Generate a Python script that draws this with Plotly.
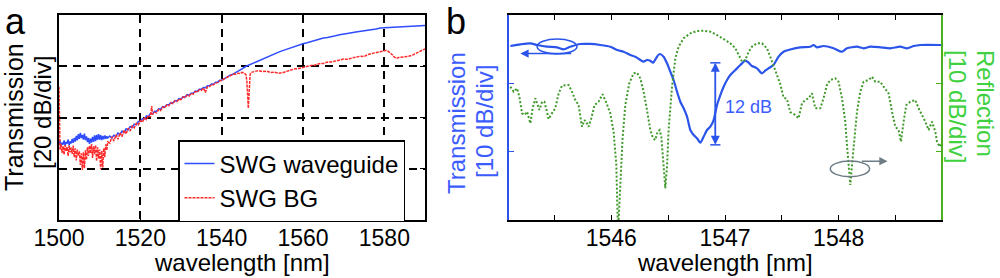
import plotly.graph_objects as go

# ---------------- Panel a data (transmission, dB) ----------------
wl_a_blue = [1500.00, 1500.25, 1500.50, 1500.75, 1501.00, 1501.25, 1501.50, 1501.75, 1502.00, 1502.25,
             1502.50, 1502.75, 1503.00, 1503.25, 1503.50, 1503.75, 1504.00, 1504.25, 1504.50, 1504.75,
             1505.00, 1505.25, 1505.50, 1505.75, 1506.00, 1506.25, 1506.50, 1506.75, 1507.00, 1507.25,
             1507.50, 1507.75, 1508.00, 1508.25, 1508.50, 1508.75, 1509.00, 1509.25, 1509.50, 1509.75,
             1510.00, 1510.25, 1510.50, 1510.75, 1511.00, 1511.25, 1511.50, 1511.75, 1512.00,
             1512.5, 1513.0, 1513.5, 1514.0, 1514.5, 1515.0, 1515.5, 1516.0, 1516.5, 1517.0,
             1517.5, 1518.0, 1518.5, 1519.0, 1519.5, 1520.0, 1520.5, 1521.0, 1521.5, 1522.0,
             1522.5, 1523.0, 1523.5, 1524.0, 1524.5, 1525.0, 1525.5, 1526.0, 1526.5, 1527.0,
             1527.5, 1528.0, 1528.5, 1529.0, 1529.5, 1530.0, 1530.5, 1531.0, 1531.5, 1532.0,
             1532.5, 1533.0, 1533.5, 1534.0, 1534.5, 1535.0, 1535.5, 1536.0, 1536.5, 1537.0,
             1537.5, 1538.0, 1538.5, 1539.0, 1539.5, 1540.0,
             1541, 1542, 1543, 1544, 1545, 1546, 1547, 1548, 1549, 1550,
             1551, 1552, 1553, 1554, 1555, 1556, 1557, 1558, 1559, 1560,
             1561, 1562, 1563, 1564, 1565, 1566, 1567, 1568, 1569, 1570,
             1571, 1572, 1573, 1574, 1575, 1576, 1577, 1578, 1579, 1580,
             1581, 1582, 1583, 1584, 1585, 1586, 1587, 1588, 1589, 1590]
tx_a_blue = [-50.5, -49.0, -51.2, -49.8, -50.6, -48.9, -51.0, -49.5, -50.2, -48.6,
             -50.9, -49.3, -50.1, -48.4, -49.9, -48.0, -49.4, -47.2, -48.9, -46.5,
             -48.3, -46.0, -48.0, -46.8, -48.6, -46.3, -48.8, -47.4, -49.6, -48.0,
             -50.3, -48.3, -49.8, -47.6, -49.5, -47.0, -49.2, -46.8, -48.7, -46.5,
             -48.6, -46.9, -48.8, -47.2, -48.5, -47.0, -48.3, -47.3, -48.0,
             -47.2, -48.0, -46.9, -47.4, -46.1, -46.6, -45.3, -45.8, -44.4, -44.9,
             -43.5, -43.9, -42.6, -42.9, -41.6, -41.6, -40.5, -40.6, -39.4, -39.6,
             -38.4, -38.6, -37.6, -37.6, -36.6, -36.8, -35.7, -35.9, -35.0, -35.0,
             -34.2, -34.3, -33.4, -33.6, -32.6, -32.8, -31.9, -32.0, -31.1, -31.3,
             -30.5, -30.5, -29.7, -29.8, -29.0, -29.0, -28.3, -28.4, -27.6, -27.6,
             -26.9, -27.0, -26.2, -26.2, -25.5, -25.5,
             -24.5, -23.6, -22.9, -21.8, -21.0, -20.0, -19.3, -18.4, -17.8, -17.0,
             -16.4, -15.7, -15.2, -14.5, -13.9, -13.3, -12.8, -12.2, -11.7, -11.2,
             -10.8, -10.3, -9.9, -9.5, -9.0, -8.8, -8.3, -8.1, -7.7, -7.5,
             -7.1, -6.9, -6.6, -6.4, -6.0, -5.9, -5.6, -5.5, -5.1, -5.0,
             -5.1, -4.8, -4.7, -4.6, -4.6, -4.4, -4.5, -4.3, -4.3, -4.1]

wl_a_red = [1500.00, 1500.10, 1500.25, 1500.50, 1500.75, 1501.00, 1501.25, 1501.50, 1501.75, 1502.00,
            1502.25, 1502.50, 1502.75, 1503.00, 1503.25, 1503.50, 1503.75, 1504.00, 1504.25, 1504.50,
            1504.75, 1505.00, 1505.25, 1505.50, 1505.75, 1506.00, 1506.25, 1506.50, 1506.75, 1507.00,
            1507.25, 1507.50, 1507.75, 1508.00, 1508.25, 1508.50, 1508.75, 1509.00, 1509.25, 1509.50,
            1509.75, 1510.00, 1510.25, 1510.50, 1510.75, 1511.00, 1511.25, 1511.50, 1511.75, 1512.00,
            1512.5, 1513.0, 1513.5, 1514.0, 1514.5, 1515.0, 1515.5, 1516.0, 1516.5, 1517.0,
            1517.5, 1518.0, 1518.5, 1519.0, 1519.5, 1520.0, 1520.5, 1521.0, 1521.5, 1522.0,
            1522.5, 1522.8, 1523.0, 1523.5, 1524.0, 1524.5, 1525.0, 1525.5, 1526.0, 1526.5,
            1527.0, 1527.5, 1528.0, 1528.5, 1529.0, 1529.5, 1530.0, 1530.5, 1531.0, 1531.5,
            1532.0, 1532.5, 1533.0, 1533.5, 1534.0, 1534.5, 1535.0, 1535.5, 1536.0, 1536.5,
            1537.0, 1537.5, 1538.0, 1538.5, 1539.0, 1539.5, 1540.0,
            1540.5, 1541.0, 1541.5, 1542.0, 1542.5, 1543.0, 1543.5, 1544.0, 1544.5, 1545.0,
            1545.5, 1546.0, 1546.2, 1546.4, 1546.55, 1546.7, 1546.85, 1547.0, 1547.3, 1548.0,
            1549, 1550, 1551, 1552, 1553, 1554, 1555, 1556, 1557, 1558,
            1559, 1560, 1561, 1562, 1563, 1564, 1565, 1566, 1567, 1568,
            1569, 1570, 1571, 1572, 1573, 1574, 1575, 1576, 1577, 1578,
            1579, 1580, 1580.5, 1581, 1581.5, 1582, 1582.5, 1583, 1583.5, 1584,
            1585, 1586, 1587, 1588, 1589, 1590]
tx_a_red = [-28.0, -51.0, -52.5, -50.5, -53.8, -51.2, -54.5, -50.8, -53.0, -51.5,
            -55.0, -50.9, -53.6, -51.8, -54.2, -51.0, -55.5, -52.0, -56.8, -52.5,
            -55.0, -53.2, -58.5, -54.0, -60.5, -53.5, -59.8, -52.8, -56.5, -51.5,
            -55.0, -51.0, -54.0, -50.4, -55.8, -51.2, -54.3, -50.8, -57.0, -51.6,
            -56.0, -52.5, -60.2, -53.0, -59.5, -52.0, -55.5, -50.5, -52.8, -49.5,
            -50.0, -47.5, -49.2, -46.8, -48.5, -46.0, -47.5, -45.0, -46.4, -44.2,
            -45.3, -43.3, -44.0, -42.3, -42.9, -41.2, -41.8, -40.2, -40.8, -39.2,
            -39.8, -35.5, -38.8, -38.0, -38.2, -36.9, -37.3, -35.9, -36.3, -35.1,
            -35.4, -34.3, -34.6, -33.5, -33.8, -32.8, -33.0, -32.0, -32.3, -31.3,
            -31.6, -30.6, -30.9, -29.9, -30.1, -29.2, -29.4, -28.5, -30.2, -28.0,
            -27.9, -27.2, -27.2, -26.5, -26.4, -25.7, -25.6,
            -25.0, -24.6, -24.3, -23.7, -23.6, -23.0, -23.1, -22.7, -22.8, -22.4,
            -22.6, -23.4, -26.0, -31.0, -36.4, -32.0, -26.0, -23.2, -22.4, -22.0,
            -21.7, -22.1, -21.9, -22.4, -22.3, -22.7, -22.5, -22.0, -21.6, -21.0,
            -20.9, -20.4, -20.2, -19.7, -19.5, -19.0, -18.9, -18.4, -18.3, -17.8,
            -17.6, -17.2, -17.3, -16.8, -16.5, -16.1, -16.2, -15.4, -15.0, -14.7,
            -14.4, -14.0, -13.8, -14.2, -14.8, -15.6, -16.5, -16.9, -16.6, -16.5,
            -16.2, -16.1, -15.6, -14.9, -13.9, -13.2]

ticks_a_x = [1500, 1520, 1540, 1560, 1580]
grid_a_y = [-60, -40, -20]

# ---------------- Panel b data (dB) ----------------
wl_b_trans = [1545.112, 1545.200, 1545.288, 1545.347, 1545.434, 1545.522, 1545.580, 1545.639, 1545.727, 1545.815,
              1545.903, 1545.991, 1546.050, 1546.108, 1546.167, 1546.211, 1546.255, 1546.284, 1546.314, 1546.343,
              1546.367, 1546.402, 1546.425, 1546.460, 1546.490, 1546.519, 1546.548, 1546.578, 1546.607, 1546.636,
              1546.666, 1546.695, 1546.724, 1546.754, 1546.783, 1546.812, 1546.842, 1546.871, 1546.900, 1546.930,
              1546.959, 1546.988, 1547.018, 1547.047, 1547.091, 1547.135, 1547.179, 1547.208, 1547.237, 1547.281,
              1547.325, 1547.354, 1547.383, 1547.427, 1547.471, 1547.515, 1547.574, 1547.662, 1547.750, 1547.779,
              1547.809, 1547.867, 1547.955, 1548.029, 1548.073, 1548.161, 1548.219, 1548.278, 1548.366, 1548.454,
              1548.542, 1548.601, 1548.659, 1548.718, 1548.900]
tx_b = [-4.54, -4.29, -4.14, -4.39, -4.64, -4.73, -5.02, -4.64, -4.24, -4.24,
        -4.39, -4.64, -5.12, -5.37, -5.85, -6.10, -6.59, -6.83, -6.59, -6.69,
        -6.98, -6.10, -5.71, -6.10, -7.07, -8.30, -9.51, -11.22, -12.69, -13.65,
        -14.88, -16.83, -17.56, -18.04, -18.69, -17.81, -16.83, -16.35, -15.37, -13.17,
        -11.71, -10.49, -9.51, -8.78, -8.05, -7.32, -6.69, -6.98, -7.46, -7.80,
        -8.53, -8.15, -7.80, -7.32, -6.10, -5.37, -5.05, -4.73, -4.64, -4.39,
        -4.73, -4.54, -4.87, -5.37, -4.87, -4.64, -4.87, -4.64, -4.73, -4.87,
        -4.64, -4.87, -4.54, -4.39, -4.39]

wl_b_refl = [1545.112, 1545.141, 1545.171, 1545.191, 1545.215, 1545.237, 1545.259, 1545.288, 1545.308, 1545.332,
             1545.352, 1545.367, 1545.391, 1545.411, 1545.434, 1545.448, 1545.478, 1545.507, 1545.537, 1545.566,
             1545.624, 1545.654, 1545.683, 1545.712, 1545.742, 1545.765, 1545.786, 1545.800, 1545.824, 1545.853,
             1545.888, 1545.923, 1545.953, 1545.991, 1546.020, 1546.044, 1546.059, 1546.079, 1546.099, 1546.123,
             1546.158, 1546.196, 1546.226, 1546.255, 1546.284, 1546.314, 1546.343, 1546.367, 1546.387, 1546.407,
             1546.425, 1546.440, 1546.455, 1546.475, 1546.490, 1546.504, 1546.534, 1546.563, 1546.592, 1546.636,
             1546.695, 1546.754, 1546.812, 1546.871, 1546.930, 1546.988, 1547.047, 1547.091, 1547.120, 1547.150,
             1547.179, 1547.208, 1547.237, 1547.281, 1547.325, 1547.369, 1547.398, 1547.427, 1547.457, 1547.486,
             1547.515, 1547.545, 1547.574, 1547.618, 1547.647, 1547.677, 1547.706, 1547.735, 1547.765, 1547.794,
             1547.838, 1547.867, 1547.897, 1547.926, 1547.970, 1547.999, 1548.029, 1548.058, 1548.073, 1548.087,
             1548.102, 1548.117, 1548.137, 1548.161, 1548.190, 1548.219, 1548.263, 1548.293, 1548.322, 1548.366,
             1548.395, 1548.439, 1548.469, 1548.498, 1548.527, 1548.548, 1548.571, 1548.595, 1548.630, 1548.674,
             1548.703, 1548.733, 1548.762, 1548.791, 1548.821, 1548.850, 1548.865, 1548.888, 1548.903]
refl_b = [-10.49, -11.22, -10.73, -11.96, -14.39, -14.63, -14.15, -15.85, -13.65, -12.19,
          -13.17, -13.90, -12.69, -12.69, -14.15, -15.22, -14.39, -13.65, -11.46, -10.35,
          -10.24, -11.22, -12.44, -13.17, -16.35, -15.37, -15.85, -16.35, -15.12, -13.17,
          -12.69, -11.60, -12.69, -14.39, -17.08, -21.95, -32.00, -25.36, -18.04, -13.17,
          -10.00, -8.53, -8.44, -9.26, -11.22, -13.90, -16.83, -18.04, -18.29, -17.08,
          -16.83, -17.81, -21.22, -25.36, -22.20, -16.83, -10.49, -6.34, -4.64, -3.41,
          -2.68, -2.34, -2.30, -2.44, -2.93, -3.56, -4.14, -4.87, -5.85, -6.83,
          -6.59, -5.37, -4.64, -4.14, -4.14, -4.87, -6.10, -7.32, -8.78, -10.10,
          -12.07, -12.29, -14.20, -14.63, -15.12, -12.92, -12.44, -12.19, -11.46, -13.65,
          -13.65, -12.19, -10.24, -9.51, -9.26, -9.76, -12.19, -15.61, -19.02, -21.95,
          -24.88, -21.95, -18.04, -14.15, -11.22, -9.76, -9.51, -9.03, -9.76, -9.76,
          -10.49, -11.46, -14.15, -16.35, -16.83, -18.54, -15.61, -13.17, -12.69, -12.44,
          -13.65, -14.63, -15.61, -16.83, -15.61, -17.08, -18.54, -19.27, -18.73]

ticks_b_x = [1545.5, 1546, 1546.5, 1547, 1547.5, 1548, 1548.5]
ticks_b_text = ["", "1546", "", "1547", "", "1548", ""]
ticks_b_y = [-20, -10]

# annotation values (panel b)
depth_wl = 1546.915
depth_low, depth_high = -19.0, -7.0

FONT = "Liberation Sans, Arial, Helvetica, sans-serif"
BLUE_A = "#2f4cff"
RED_A = "#ff2a2a"
BLUE_B = "#2b55ea"
GREEN_B = "#3f9a2a"
GREEN_AX = "#4caf1f"
GREEN_TXT = "#3fd13f"
BLUE_TXT = "#3b5cff"
GRAY = "#6e7c86"

fig = go.Figure()
fig.add_trace(go.Scatter(x=wl_a_blue, y=tx_a_blue, mode="lines", name="SWG waveguide",
                         line=dict(color=BLUE_A, width=1.5), xaxis="x", yaxis="y"))
fig.add_trace(go.Scatter(x=wl_a_red, y=tx_a_red, mode="lines", name="SWG BG",
                         line=dict(color=RED_A, width=1.5, dash="3px,1px"), xaxis="x", yaxis="y"))
fig.add_trace(go.Scatter(x=wl_b_trans, y=tx_b, mode="lines", showlegend=False,
                         line=dict(color=BLUE_B, width=2.2, shape="spline", smoothing=0.6),
                         xaxis="x2", yaxis="y2"))
fig.add_trace(go.Scatter(x=wl_b_refl, y=refl_b, mode="lines", showlegend=False,
                         line=dict(color=GREEN_B, width=2, dash="2px,2px"),
                         xaxis="x2", yaxis="y3"))

ydom = [58 / 278, 263 / 278]
fig.update_layout(
    width=1000, height=278,
    margin=dict(l=0, r=0, t=0, b=0, autoexpand=False),
    paper_bgcolor="white", plot_bgcolor="white",
    font=dict(family=FONT, size=24, color="black"),
    showlegend=True,
    legend=dict(x=0.178, y=1 - 140 / 278, xanchor="left", yanchor="top",
                bgcolor="white", bordercolor="black", borderwidth=1.5,
                font=dict(size=24, family=FONT), itemwidth=30, tracegroupgap=0),
    xaxis=dict(domain=[0.059, 0.425], range=[1500, 1590], anchor="y", automargin=False,
               tickvals=ticks_a_x, ticks="inside", ticklen=5, tickcolor="black",
               showline=True, linecolor="black", linewidth=1.5, mirror="ticks",
               showgrid=True, gridcolor="black", gridwidth=1.5, griddash="8px,6px",
               zeroline=False, tickfont=dict(size=23), ticklabelstandoff=-3),
    yaxis=dict(domain=ydom, range=[-80, 0], anchor="x", automargin=False,
               tickvals=grid_a_y, ticks="inside", ticklen=5, tickcolor="black",
               showticklabels=False,
               showline=True, linecolor="black", linewidth=1.5, mirror="ticks",
               showgrid=True, gridcolor="black", gridwidth=1.5, griddash="8px,6px",
               zeroline=False),
    xaxis2=dict(domain=[0.509, 0.941], range=[1545.1, 1548.9], anchor="y2", automargin=False,
                tickvals=ticks_b_x, ticktext=ticks_b_text, ticks="inside", ticklen=5,
                tickcolor="black", showline=True, linecolor="black", linewidth=1.5,
                mirror="ticks", showgrid=False, zeroline=False, tickfont=dict(size=23),
                ticklabelstandoff=-3),
    yaxis2=dict(domain=ydom, range=[-30, 0], anchor="x2", automargin=False,
                tickvals=ticks_b_y, ticks="inside", ticklen=5, tickcolor=BLUE_B,
                showticklabels=False, showline=True, linecolor=BLUE_B, linewidth=1.5,
                showgrid=False, zeroline=False),
    yaxis3=dict(range=[-30, 0], anchor="x2", overlaying="y2", side="right", automargin=False,
                tickvals=ticks_b_y, ticks="inside", ticklen=5, tickcolor=GREEN_AX,
                showticklabels=False, showline=True, linecolor=GREEN_AX, linewidth=1.5,
                showgrid=False, zeroline=False),
)

# panel letters, axis titles
ann = [
    dict(text="a", x=3 / 1000, y=1 - 22 / 278, xanchor="left", yanchor="middle",
         font=dict(size=36, color="black")),
    dict(text="b", x=444 / 1000, y=1 - 22 / 278, xanchor="left", yanchor="middle",
         font=dict(size=36, color="black")),
    dict(text="Transmission", x=14 / 1000, y=1 - 117 / 278, textangle=-90,
         xanchor="center", yanchor="middle", font=dict(size=25, color="black")),
    dict(text="[20 dB/div]", x=42 / 1000, y=1 - 113 / 278, textangle=-90,
         xanchor="center", yanchor="middle", font=dict(size=24, color="black")),
    dict(text="Transmission", x=456 / 1000, y=1 - 123 / 278, textangle=-90,
         xanchor="center", yanchor="middle", font=dict(size=24, color=BLUE_TXT)),
    dict(text="[10 dB/div]", x=485 / 1000, y=1 - 122 / 278, textangle=-90,
         xanchor="center", yanchor="middle", font=dict(size=24, color=BLUE_TXT)),
    dict(text="Reflection", x=985 / 1000, y=1 - 103 / 278, textangle=90,
         xanchor="center", yanchor="middle", font=dict(size=24, color=GREEN_TXT)),
    dict(text="[10 dB/div]", x=958 / 1000, y=1 - 106 / 278, textangle=90,
         xanchor="center", yanchor="middle", font=dict(size=24, color=GREEN_TXT)),
    dict(text="wavelength [nm]", x=242 / 1000, y=1 - 262 / 278,
         xanchor="center", yanchor="middle", font=dict(size=24, color="black")),
    dict(text="wavelength [nm]", x=725 / 1000, y=1 - 262 / 278,
         xanchor="center", yanchor="middle", font=dict(size=24, color="black")),
]
for a in ann:
    a.update(xref="paper", yref="paper", showarrow=False)
    fig.add_annotation(**a)

# 12 dB marker
fig.add_annotation(text="12 dB", x=1547.205, y=-13.5, xref="x2", yref="y2", showarrow=False,
                   font=dict(size=18, color=BLUE_TXT))
for head, tail in [(depth_high, depth_low), (depth_low, depth_high)]:
    fig.add_annotation(x=depth_wl, y=head, ax=depth_wl, ay=tail, xref="x2", yref="y2",
                       axref="x2", ayref="y2", text="", showarrow=True, arrowhead=2,
                       arrowsize=1.2, arrowwidth=1.5, arrowcolor=BLUE_B)
for yv in [depth_low, depth_high]:
    fig.add_shape(type="line", x0=depth_wl - 0.045, x1=depth_wl + 0.045, y0=yv, y1=yv,
                  xref="x2", yref="y2", line=dict(color=BLUE_B, width=1.5))

# ellipse + arrow markers
fig.add_shape(type="circle", x0=1545.347, x1=1545.698, y0=-5.71, y1=-3.51, xref="x2", yref="y2",
              line=dict(color=BLUE_B, width=1.5))
fig.add_annotation(x=1545.2, y=-5.65, ax=1545.66, ay=-5.65, xref="x2", yref="y2", axref="x2",
                   ayref="y2", text="", showarrow=True, arrowhead=2, arrowsize=1.1,
                   arrowwidth=1.5, arrowcolor=BLUE_B)
fig.add_shape(type="circle", x0=1547.926, x1=1548.272, y0=-23.66, y1=-21.37, xref="x2", yref="y3",
              line=dict(color=GRAY, width=1.5))
fig.add_annotation(x=1548.43, y=-21.4, ax=1548.19, ay=-21.4, xref="x2", yref="y3", axref="x2",
                   ayref="y3", text="", showarrow=True, arrowhead=2, arrowsize=1.1,
                   arrowwidth=1.5, arrowcolor=GRAY)

fig.write_html("out.html", config={"displayModeBar": False},
               post_script="document.body.style.margin='0px';document.body.style.padding='0px';")
